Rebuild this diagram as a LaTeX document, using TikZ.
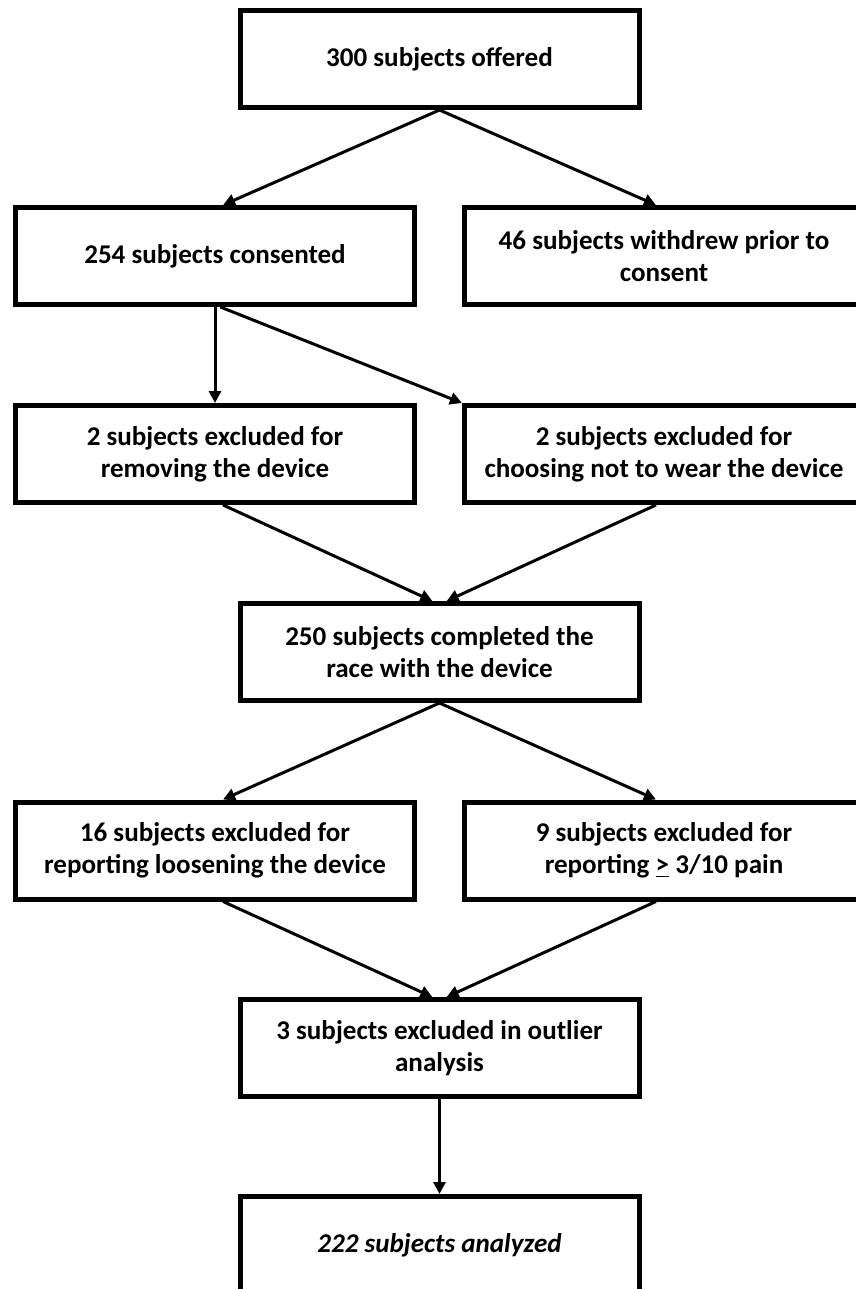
\documentclass[tikz,border=0pt]{standalone}
\usepackage{fontspec}
\setmainfont{Carlito}
\usetikzlibrary{positioning,arrows.meta}

\begin{document}
\begin{tikzpicture}[
  box/.style={draw, line width=0.1cm, align=center,
    minimum width=7.98cm, minimum height=1.94cm, inner sep=2pt,
    font=\fontsize{15.4}{18.2}\selectfont\bfseries},
  arr/.style={-{Triangle[length=2.4mm,width=2.4mm]}, line width=0.06cm}
]
  \useasboundingbox (0,0) rectangle (17.12,-25.78);

  % --- Column of boxes (centre and two sides) ---
  \node[box] (offered)   at (8.79,-1.18)  {300 subjects offered};
  \node[box] (consent)   at (4.30,-5.12)  {254 subjects consented};
  \node[box] (withdrew)  at (13.28,-5.12) {46 subjects withdrew prior to\\consent};
  \node[box] (removing)  at (4.30,-9.08)  {2 subjects excluded for\\removing the device};
  \node[box] (notwear)   at (13.28,-9.08) {2 subjects excluded for\\choosing not to wear the device};
  \node[box] (completed) at (8.79,-13.04) {250 subjects completed the\\race with the device};
  \node[box] (loosening) at (4.30,-17.01) {16 subjects excluded for\\reporting loosening the device};
  \node[box] (pain)      at (13.28,-17.01) {9 subjects excluded for\\reporting \underline{>} 3/10 pain};
  \node[box] (outlier)   at (8.79,-20.96) {3 subjects excluded in outlier\\analysis};
  \node[box] (analyzed)  at (8.79,-24.90) {\itshape 222 subjects analyzed};

  % --- Arrows: split after offer ---
  \draw[arr] (offered.south) -- (consent.81);
  \draw[arr] (offered.south) -- (withdrew.99);

  % --- Arrows: consented to exclusions ---
  \draw[arr] (consent.south) -- (removing.north);
  \draw[arr] (consent.-84)   -- (notwear.north west);

  % --- Arrows: merge into completed ---
  \draw[arr] (removing.-81) -- (completed.98);
  \draw[arr] (notwear.-99)  -- (completed.82);

  % --- Arrows: completed to exclusions ---
  \draw[arr] (completed.south) -- (loosening.81);
  \draw[arr] (completed.south) -- (pain.99);

  % --- Arrows: merge into outlier, then analyzed ---
  \draw[arr] (loosening.-81) -- (outlier.98);
  \draw[arr] (pain.-99)      -- (outlier.82);
  \draw[arr] (outlier.south) -- (analyzed.north);
\end{tikzpicture}
\end{document}
